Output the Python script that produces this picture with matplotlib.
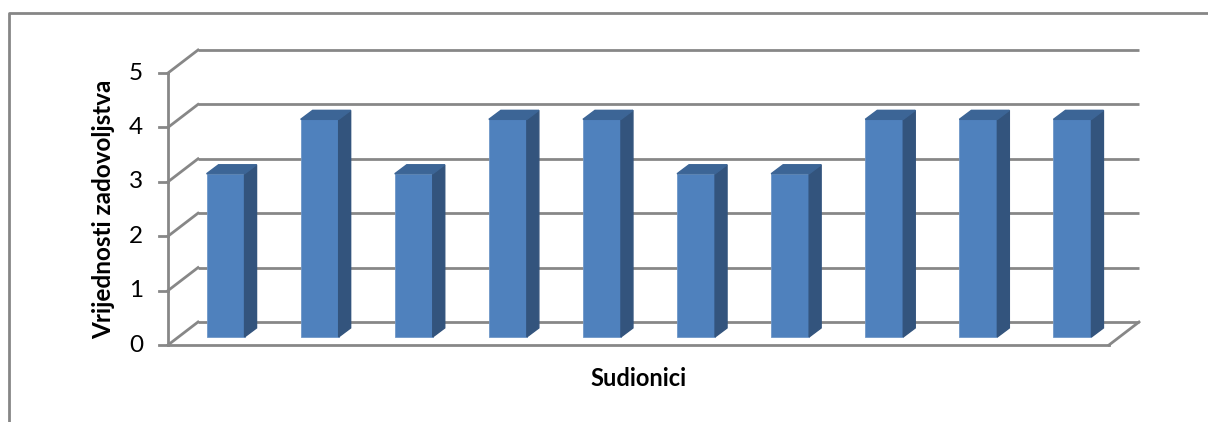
import numpy as np
import matplotlib.pyplot as plt
from matplotlib.patches import Polygon
from matplotlib.lines import Line2D

# data
sudionici = list(range(1, 11))
vrijednosti = [3, 4, 3, 4, 4, 3, 3, 4, 4, 4]
yticks = [0, 1, 2, 3, 4, 5]

plt.rcParams['font.family'] = ['Lato', 'DejaVu Sans']

W, H = 1208, 422
fig = plt.figure(figsize=(W / 100, H / 100), dpi=100)
ax = fig.add_axes([0, 0, 1, 1])
ax.set_axis_off()

# pixel layout of the front plane
px_x0, px_x1 = 168, 1109      # front axis 0..n
px_y0, px_unit = 345, 54.4    # value 0 row (from top), pixels per unit
n = len(vrijednosti)
ux = (px_x1 - px_x0) / n      # pixels per category
ax.set_xlim(-px_x0 / ux, (W - px_x0) / ux)
ax.set_ylim(-(H - px_y0) / px_unit, px_y0 / px_unit)

# depth of the 3d wall in data units
DX = 30 / ux
DY = 23 / px_unit
grid_c = '#878787'

# back wall gridlines + left wall diagonals
for t in yticks:
    ax.plot([DX, n + DX], [t + DY, t + DY], color=grid_c, lw=2, zorder=1,
            solid_capstyle='butt')
    ax.plot([0, DX], [t, t + DY], color=grid_c, lw=2, zorder=1)
    ax.plot([-9 / ux, 0], [t, t], color=grid_c, lw=2, zorder=1)
    ax.annotate(str(t), (0, t), xytext=(-25, 0), textcoords='offset pixels',
                ha='right', va='center', fontsize=17.5, color='black')

# front axis and floor
ax.plot([0, 0], [0, yticks[-1]], color=grid_c, lw=2, zorder=1)
ax.plot([0, n], [0, 0], color=grid_c, lw=2, zorder=1)
ax.plot([n, n + DX], [0, DY], color=grid_c, lw=2, zorder=1)

# 3d bars
f = 0.35
bw = 38 / ux
bdx = 12 / ux
bdy = 9 / px_unit
front_c, side_c, top_c = '#4F81BD', '#33547D', '#3C6596'
for i, v in enumerate(vrijednosti):
    x0 = i + 0.5 - bw / 2 + f * DX
    y0 = f * DY
    ax.bar(x0, v, width=bw, bottom=y0, align='edge', color=front_c,
           edgecolor='#6F97C8', linewidth=0.6, zorder=3)
    side = [(x0 + bw, y0), (x0 + bw + bdx, y0 + bdy),
            (x0 + bw + bdx, y0 + v + bdy), (x0 + bw, y0 + v)]
    top = [(x0, y0 + v), (x0 + bw, y0 + v),
           (x0 + bw + bdx, y0 + v + bdy), (x0 + bdx, y0 + v + bdy)]
    ax.add_patch(Polygon(side, closed=True, color=side_c, zorder=3))
    ax.add_patch(Polygon(top, closed=True, color=top_c, zorder=3))

# axis titles
ax.annotate('Vrijednosti zadovoljstva', (0, 2.5), xytext=(-64, 0),
            textcoords='offset pixels', rotation=90, ha='center', va='center',
            fontsize=17.5, fontweight='bold')
ax.annotate('Sudionici', (n / 2, 0), xytext=(0, -33),
            textcoords='offset pixels', ha='center', va='center',
            fontsize=17, fontweight='bold')

# chart area border (left and top visible)
fig.add_artist(Line2D([8.5 / W, 8.5 / W, 1], [0, 1 - 12.5 / H, 1 - 12.5 / H],
                      transform=fig.transFigure, color='#868686', lw=2))

fig.savefig('out.png', dpi=100)
